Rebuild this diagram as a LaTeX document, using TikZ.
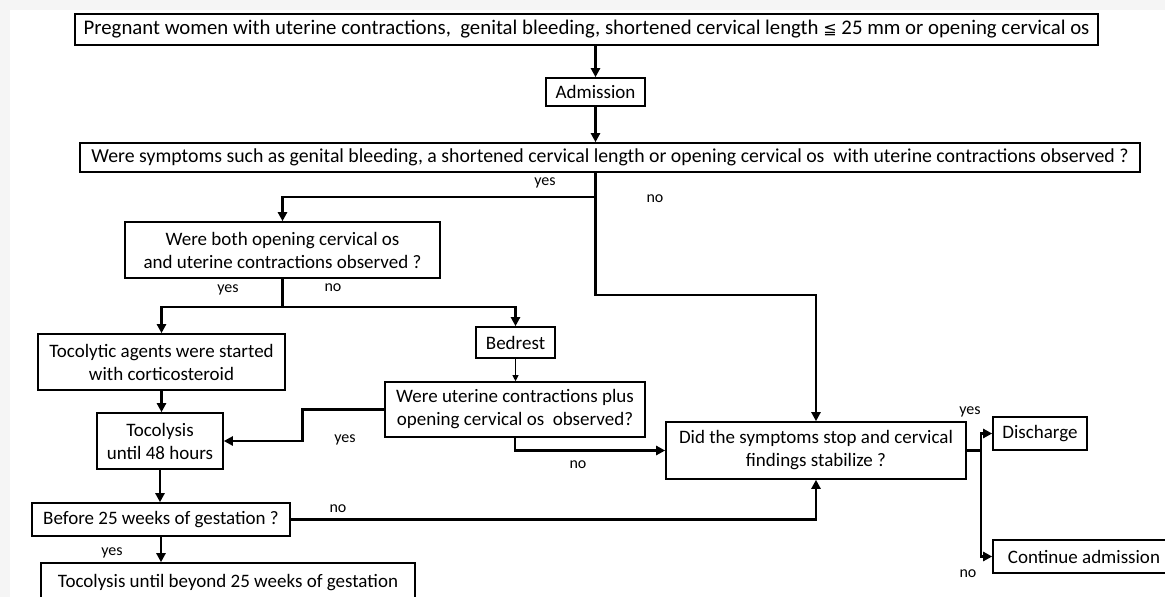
\documentclass[tikz,border=0pt]{standalone}
\usepackage{fontspec}
\setmainfont{Carlito}
\newfontfamily\symfont{DejaVu Sans}
\usepackage{tikz}
\usetikzlibrary{calc,arrows.meta}

\begin{document}
\begin{tikzpicture}[x=1pt,y=-1pt,
  box/.style={draw,line width=1.6pt,inner sep=0pt,align=center,font=\fontsize{19}{23}\selectfont},
  lbl/.style={font=\fontsize{16}{18}\selectfont},
  link/.style={line width=2.6pt,-{Triangle[length=9pt,width=9pt]}},
  thinlink/.style={line width=0.9pt,-{Triangle[length=6pt,width=6pt]}}]
 				\useasboundingbox (0,0) rectangle (1165,597);
 				\clip (0,0) rectangle (1165,597);
 				\fill[gray!8] (0,0) rectangle (1165,597);
 				\fill[white] (10,10) rectangle (1165,597);

 				\node[box,minimum width=1023,minimum height=31,font=\fontsize{20.8}{24}\selectfont] (top) at (586.5,29.5) {Pregnant women with uterine contractions,\ \ genital bleeding, shortened cervical length {\symfont\fontsize{16}{18}\selectfont ≦} 25 mm or opening cervical os};
 				\node[box,minimum width=99,minimum height=28] (adm) at (595.5,92) {Admission};
 				\node[box,minimum width=1060,minimum height=29,font=\fontsize{19.8}{22}\selectfont] (q1) at (610,157.5) {Were symptoms such as genital bleeding, a shortened cervical length or opening cervical os\ \ with uterine contractions observed ?};
 				\node[box,minimum width=315,minimum height=56] (q2) at (282.5,250) {Were both opening cervical os\\and uterine contractions observed ?};
 				\node[box,minimum width=247,minimum height=56] (toco) at (161.5,362) {Tocolytic agents were started\\with corticosteroid};
 				\node[box,minimum width=79,minimum height=31] (bed) at (515.5,342.5) {Bedrest};
 				\node[box,minimum width=260,minimum height=55] (q3) at (515,409.5) {Were uterine contractions plus\\opening cervical os\ \ observed?};
 				\node[box,minimum width=126,minimum height=56] (t48) at (160,441) {Tocolysis\\until 48 hours};
 				\node[box,minimum width=258,minimum height=33] (bef) at (161,519.5) {Before 25 weeks of gestation ?};
 				\node[box,minimum width=374,minimum height=40] (fin) at (228,583) {Tocolysis until beyond 25 weeks of gestation};
 				\node[box,minimum width=300,minimum height=57] (did) at (816,450.5) {Did the symptoms stop and cervical\\findings stabilize ?};
 				\node[box,minimum width=94,minimum height=33] (dis) at (1040,433.5) {Discharge};
 				\node[box,minimum width=182,minimum height=33] (cont) at (1084,556.5) {Continue admission};

 				\draw[link] (top.south -| adm) -- (adm.north);
 				\draw[link] (adm.south) -- (adm.south |- q1.north);
 				\draw[link] (q1.south -| adm) -- ++(0,122) -| (did.north);
 				\draw[link] ($(q1.south -| adm)+(0,24)$) -| (q2.north);
 				\draw[link] (q2.south) -- ++(0,28) -| (toco.north);
 				\draw[link] ($(q2.south)+(0,28)$) -| (bed.north);
 				\draw[thinlink] (bed.south) -- (bed.south |- q3.north);
 				\draw[link] (q3.west) -- ++(-82,0) |- (t48.east);
 				\draw[link] (q3.south) |- (did.west);
 				\draw[link] (toco.south) -- (toco.south |- t48.north);
 				\draw[link] (t48.south) -- (t48.south |- bef.north);
 				\draw[link] (bef.east) -| (did.south);
 				\draw[link] (bef.south) -- (bef.south |- fin.north);
 				\draw[link] (did.east) -- ++(14,0) |- (dis.west);
 				\draw[link] ($(did.east)+(14,0)$) |- (cont.west);

 				\node[lbl] (l1) at (545,183) {yes};
 				\node[lbl] (l2) at (655,199) {no};
 				\node[lbl] (l3) at (228,290) {yes};
 				\node[lbl] (l4) at (333,288) {no};
 				\node[lbl] (l5) at (345,440) {yes};
 				\node[lbl] (l6) at (578,465) {no};
 				\node[lbl] (l7) at (338,509) {no};
 				\node[lbl] (l8) at (112,553) {yes};
 				\node[lbl] (l9) at (970,412) {yes};
 				\node[lbl] (l10) at (968,574) {no};
			\end{tikzpicture}
\end{document}
